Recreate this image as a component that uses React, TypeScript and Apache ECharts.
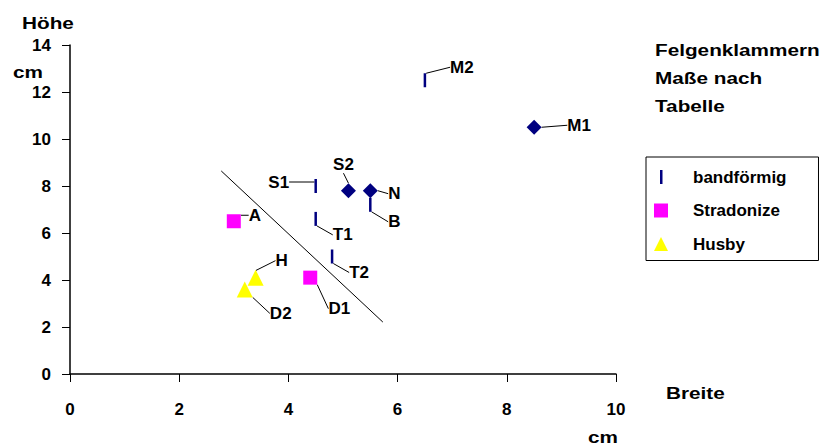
import React, { useEffect, useRef } from "react";
import * as echarts from "echarts";

// ---- data ----
const bandNames = ["M2", "S1", "T1", "T2", "B"];
const bandX = [6.5, 4.5, 4.5, 4.8, 5.5];
const bandY = [12.5, 8.0, 6.6, 5.0, 7.2];

const diamondNames = ["M1", "S2", "N"];
const diamondX = [8.5, 5.1, 5.5];
const diamondY = [10.5, 7.8, 7.8];

const stradNames = ["A", "D1"];
const stradX = [3.0, 4.4];
const stradY = [6.5, 4.1];

const husbyNames = ["H", "D2"];
const husbyX = [3.4, 3.2];
const husbyY = [4.1, 3.6];

const dividerX = [2.77, 5.73];
const dividerY = [8.64, 2.21];

const xMin = 0, xMax = 10, xStep = 2;
const yMin = 0, yMax = 14, yStep = 2;

const legendNames = ["bandförmig", "Stradonize", "Husby"];
const titleLines = ["Felgenklammern", "Maße nach", "Tabelle"];

// label offsets (px) from marker centre
const LABEL_OFFSETS: Record<string, [number, number]> = {
  M2: [37, -13], M1: [45, -2], S1: [-37, -4], S2: [-5, -26], N: [24, 3],
  B: [24, 17], T1: [27, 16], T2: [27, 16], A: [21, -6], D1: [29, 31],
  H: [26, -17], D2: [36, 24],
};

const FONT = "Liberation Sans";
const FS = 17;
const SX = 1.22;

function pts(xs: number[], ys: number[], names: string[]) {
  return xs.map((x, i) => ({ value: [x, ys[i]], name: names[i] }));
}

function scatter(name: string, data: any[], names: string[], symbol: any, size: any, color: string) {
  return {
    type: "scatter",
    name,
    data,
    symbol,
    symbolSize: size,
    itemStyle: { color, opacity: 1 },
    z: 3,
    label: {
      show: true,
      position: "inside",
      formatter: "{b}",
      fontFamily: FONT,
      fontWeight: "bold",
      fontSize: FS,
      color: "#000",
    },
    labelLine: { show: true, length2: 0, lineStyle: { color: "#000", width: 1 } },
    labelLayout: (p: any) => {
      const o = LABEL_OFFSETS[names[p.dataIndex]] || [0, 0];
      return {
        x: p.rect.x + p.rect.width / 2 + o[0],
        y: p.rect.y + p.rect.height / 2 + o[1],
        align: "center",
        verticalAlign: "middle",
      };
    },
    emphasis: { disabled: true },
  };
}

function txt(text: string, x: number, y: number) {
  return {
    type: "text",
    x,
    y,
    scaleX: SX,
    style: {
      text,
      x: 0,
      y: 0,
      fill: "#000",
      font: `bold ${FS}px "${FONT}"`,
      verticalAlign: "middle",
    },
  };
}

export default function App() {
  const ref = useRef<HTMLDivElement>(null);
  useEffect(() => {
    if (!ref.current) return;
    const chart = echarts.init(ref.current, null, { renderer: "svg" });
    const axisText = { fontFamily: FONT, fontWeight: "bold", fontSize: FS, color: "#000" };
    chart.setOption({
      animation: false,
      backgroundColor: "#fff",
      grid: { left: 70, top: 45, width: 546, height: 329 },
      xAxis: {
        type: "value",
        min: xMin,
        max: xMax,
        interval: xStep,
        axisLine: { show: true, onZero: false, lineStyle: { color: "#000", width: 1.5 } },
        axisTick: { show: true, inside: false, length: 8, lineStyle: { color: "#000", width: 1 } },
        splitLine: { show: false },
        axisLabel: { margin: 27, ...axisText },
      },
      yAxis: {
        type: "value",
        min: yMin,
        max: yMax,
        interval: yStep,
        axisLine: { show: true, onZero: false, lineStyle: { color: "#000", width: 1.5 } },
        axisTick: { show: true, inside: false, length: 8, lineStyle: { color: "#000", width: 1 } },
        splitLine: { show: false },
        axisLabel: { margin: 19, ...axisText },
      },
      legend: {
        data: [
          {
            name: legendNames[0],
            icon: "path://M0,0L0.01,0Z M6,0L8.5,0L8.5,14L6,14Z M14,14L14.01,14Z",
          },
          { name: legendNames[1], icon: "path://M0,0L14,0L14,14L0,14Z" },
          { name: legendNames[2], icon: "path://M7,0L14,14L0,14Z" },
        ],
        orient: "vertical",
        left: 646,
        top: 157,
        itemWidth: 54,
        itemHeight: 14,
        itemGap: 16.5,
        padding: [11.5, 32, 8, 8],
        borderColor: "#000",
        borderWidth: 1,
        selectedMode: false,
        textStyle: { fontFamily: FONT, fontWeight: "bold", fontSize: FS, color: "#000" },
      },
      series: [
        {
          type: "line",
          name: "divider",
          data: dividerX.map((x, i) => [x, dividerY[i]]),
          symbol: "none",
          lineStyle: { color: "#000", width: 1 },
          silent: true,
          z: 2,
        },
        scatter(legendNames[0], pts(bandX, bandY, bandNames), bandNames, "rect", [2.5, 14], "#000080"),
        scatter("Rauten", pts(diamondX, diamondY, diamondNames), diamondNames, "diamond", 15, "#000080"),
        scatter(legendNames[1], pts(stradX, stradY, stradNames), stradNames, "rect", 14, "#FF00FF"),
        scatter(legendNames[2], pts(husbyX, husbyY, husbyNames), husbyNames, "triangle", 16, "#FFFF00"),
      ],
      graphic: [
        txt("Höhe", 22, 23),
        txt("cm", 13, 72),
        txt("Breite", 666, 393),
        txt("cm", 588, 437),
        txt(titleLines[0], 655, 50),
        txt(titleLines[1], 655, 78),
        txt(titleLines[2], 655, 106),
      ],
    });
    return () => chart.dispose();
  }, []);
  return (
    <div
      ref={ref}
      style={{ position: "fixed", left: 0, top: 0, width: 835, height: 445, background: "#fff" }}
    />
  );
}
